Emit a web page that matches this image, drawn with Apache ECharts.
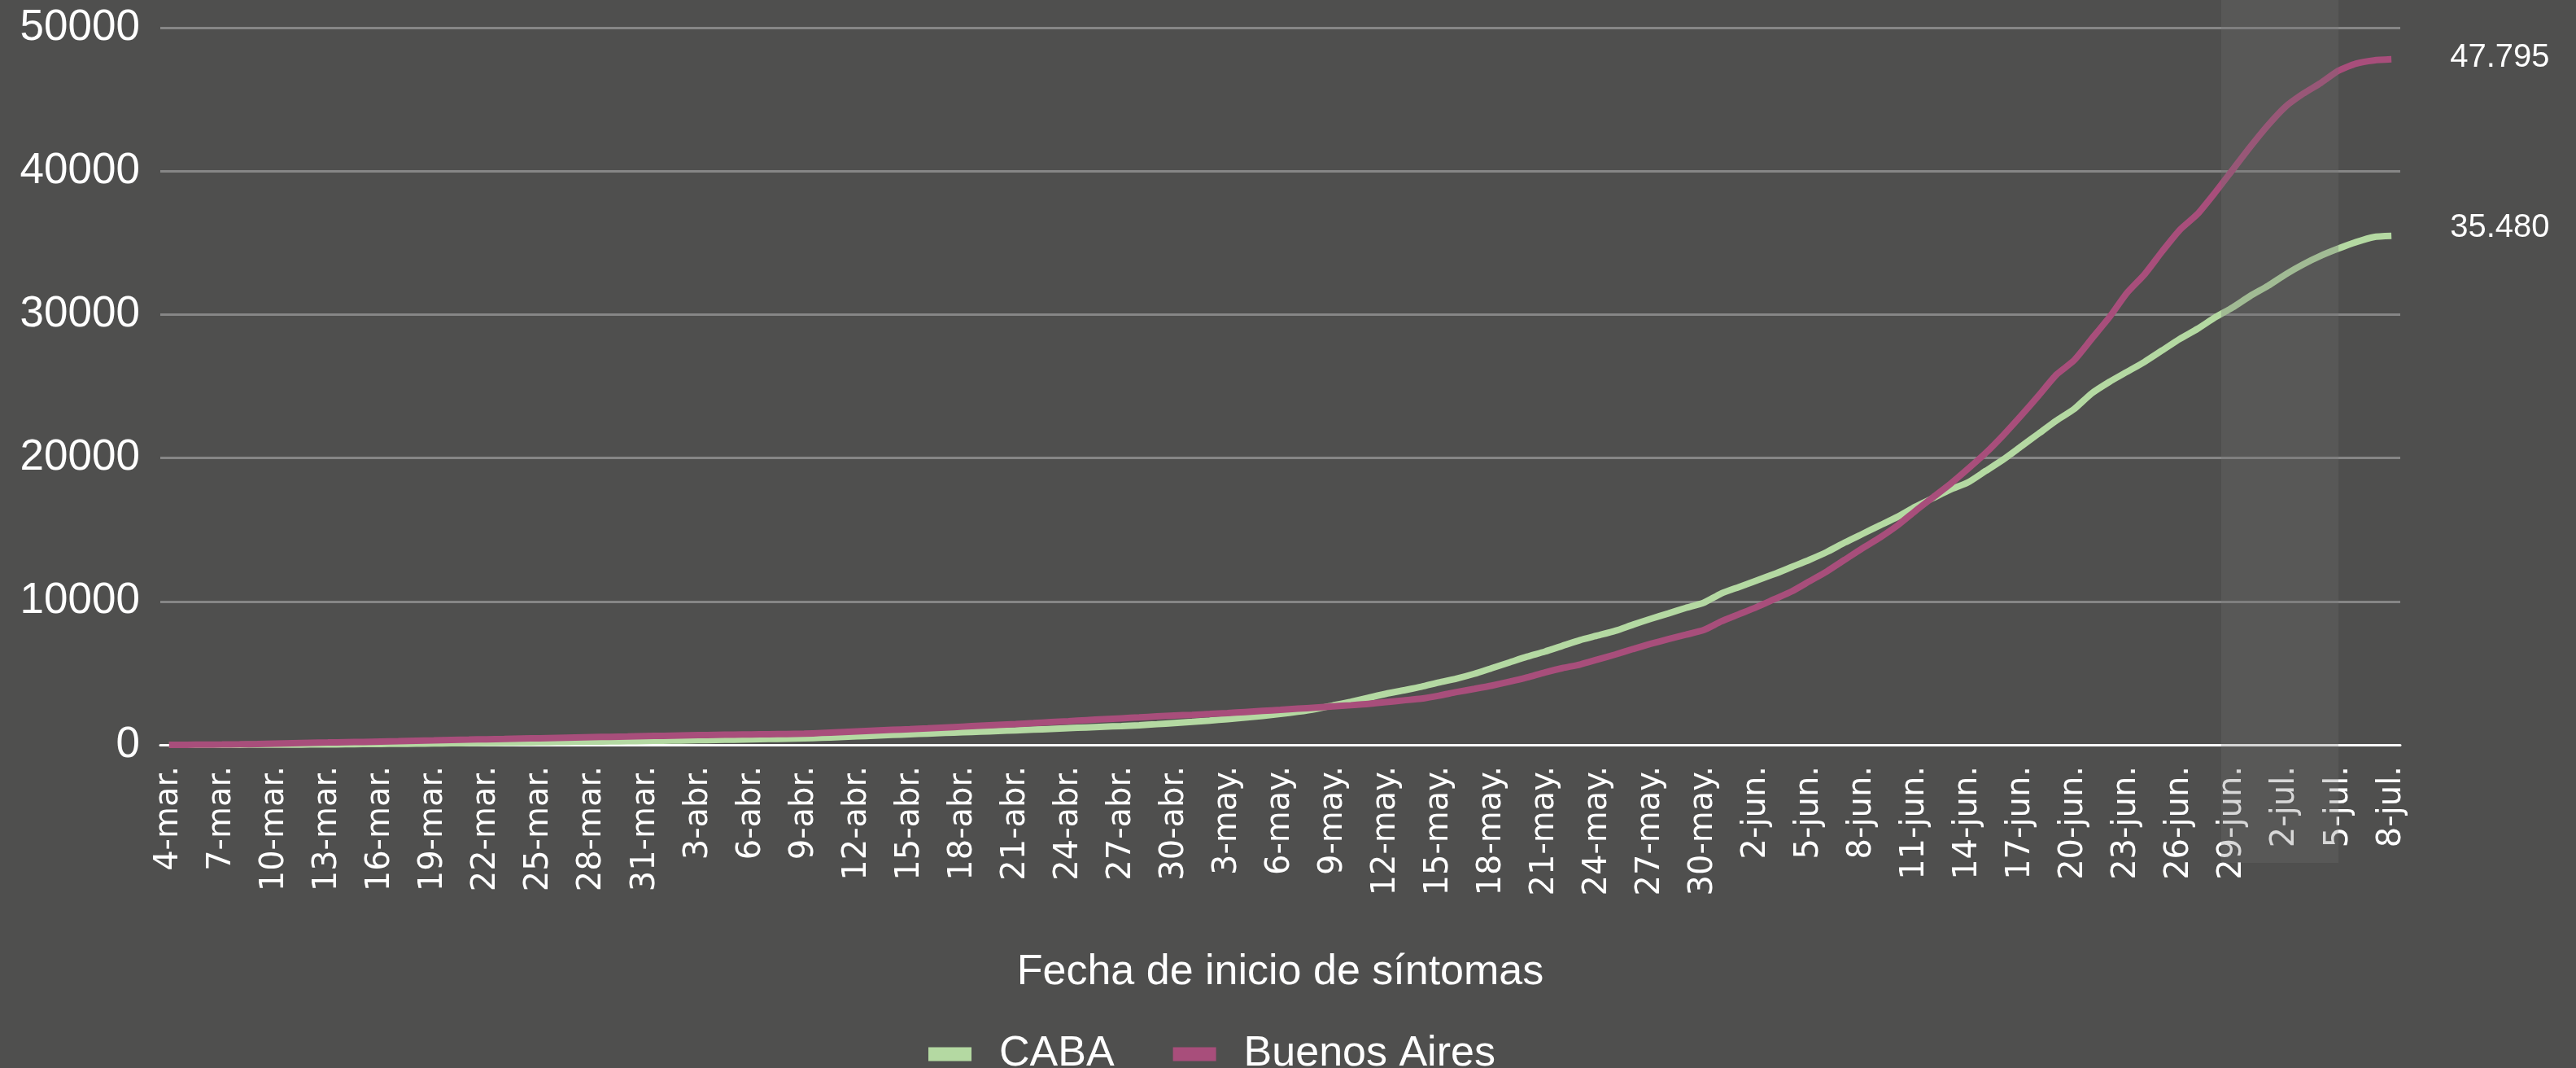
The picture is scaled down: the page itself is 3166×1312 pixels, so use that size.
<!DOCTYPE html>
<html>
<head>
<meta charset="utf-8">
<script src="https://cdn.jsdelivr.net/npm/echarts@6/dist/echarts.min.js"></script>
<style>
html,body{margin:0;padding:0;background:#4f4f4e;}
#c{width:3166px;height:1312px;}
</style>
</head>
<body>
<div id="c"></div>
<script>
// Categories: 4-mar. .. 8-jul. (daily)
const months = [
  {name:'mar.', from:4, to:31},
  {name:'abr.', from:1, to:30},
  {name:'may.', from:1, to:31},
  {name:'jun.', from:1, to:30},
  {name:'jul.', from:1, to:8}
];
const categories = [];
months.forEach(m => { for (let d = m.from; d <= m.to; d++) categories.push(d + '-' + m.name); });

// CABA cumulative cases
const caba = [
  0,1,2,4,6,9,13,18,24,31,
  40,50,60,72,84,97,110,124,138,152,
  166,180,195,210,225,240,255,270,287,304,
  322,340,360,382,405,430,455,495,540,590,
  640,690,740,785,830,875,920,965,1010,1060,
  1110,1160,1210,1260,1310,1365,1440,1520,1600,1690,
  1790,1900,2020,2150,2310,2500,2750,3000,3280,3560,
  3800,4050,4350,4620,4950,5350,5750,6150,6500,6900,
  7300,7620,7950,8380,8780,9160,9550,9900,10550,11000,
  11450,11900,12400,12900,13450,14100,14700,15300,15900,16600,
  17200,17800,18300,19100,19900,20800,21700,22600,23400,24500,
  25300,26000,26700,27500,28300,29000,29800,30500,31300,32000,
  32800,33500,34100,34600,35050,35400,35480
];

// Buenos Aires cumulative cases
const buenosAires = [
  2,5,12,25,40,60,90,120,145,165,
  185,200,225,250,280,310,340,365,390,410,
  435,460,485,510,535,560,580,605,630,655,
  675,695,710,725,740,755,775,830,885,940,
  995,1045,1095,1150,1210,1270,1330,1390,1450,1515,
  1585,1650,1720,1785,1850,1915,1980,2040,2090,2150,
  2215,2290,2365,2440,2520,2600,2680,2760,2850,2980,
  3100,3220,3430,3680,3900,4130,4400,4700,5050,5350,
  5600,5950,6300,6680,7040,7370,7680,8000,8600,9100,
  9600,10150,10700,11400,12100,12900,13700,14450,15300,16300,
  17250,18200,19250,20350,21600,22950,24350,25800,26800,28300,
  29800,31500,32800,34400,35900,37000,38500,40100,41700,43200,
  44500,45400,46150,47000,47500,47720,47795
];

const endLabels = ['35.480', '47.795'];
const seriesNames = ['CABA', 'Buenos Aires'];
const colors = ['#b4d9a2', '#a84e7b'];
const yTicks = {min: 0, max: 50000, interval: 10000};
const shadeFrom = '29-jun.';
const shadeTo = '5-jul.';

const font = 'Liberation Sans, Arial, sans-serif';

function endLabel(text, offY) {
  return {show: true, formatter: text, distance: 72, offset: [0, offY],
    color: '#ffffff', fontSize: 40, fontFamily: font};
}

const chart = echarts.init(document.getElementById('c'), null, {renderer: 'canvas'});
chart.setOption({
  backgroundColor: '#4f4f4e',
  animation: false,
  grid: {left: 197, right: 216, top: 34, bottom: 397, containLabel: false},
  legend: {
    left: 1136, top: 1264,
    itemWidth: 53, itemHeight: 17, itemGap: 72,
    icon: 'rect',
    textStyle: {color: '#ffffff', fontSize: 52, fontFamily: font, padding: [0, 0, 0, 29]},
    data: seriesNames.map((n, i) => ({name: n, icon: 'rect', itemStyle: {color: colors[i]}}))
  },
  xAxis: {
    type: 'category',
    data: categories,
    boundaryGap: true,
    name: 'Fecha de inicio de síntomas',
    nameLocation: 'middle',
    nameGap: 254,
    nameTextStyle: {color: '#ffffff', fontSize: 52, fontFamily: font},
    axisLine: {show: true, lineStyle: {color: '#ffffff', width: 3}},
    axisTick: {show: false},
    axisLabel: {interval: 2, rotate: 90, margin: 26, color: '#ffffff', fontSize: 40, fontFamily: 'DejaVu Sans, sans-serif'},
    splitLine: {show: false}
  },
  yAxis: {
    type: 'value',
    min: yTicks.min, max: yTicks.max, interval: yTicks.interval,
    axisLine: {show: false},
    axisTick: {show: false},
    axisLabel: {margin: 25, color: '#ffffff', fontSize: 53, fontFamily: font, formatter: v => String(v)},
    splitLine: {show: true, lineStyle: {color: '#868686', width: 3}}
  },
  series: [
    {name: seriesNames[0], type: 'line', data: caba, showSymbol: false, symbol: 'none', clip: false,
      smooth: 0.2, lineStyle: {color: colors[0], width: 8}, itemStyle: {color: colors[0]}, z: 3,
      endLabel: endLabel(endLabels[0], -10)},
    {name: seriesNames[1], type: 'line', data: buenosAires, showSymbol: false, symbol: 'none', clip: false,
      smooth: 0.2, lineStyle: {color: colors[1], width: 8}, itemStyle: {color: colors[1]}, z: 4,
      endLabel: endLabel(endLabels[1], -2)}
  ]
});

// Shaded band for recent days (drawn on top, as in the reference)
const xa = chart.convertToPixel({xAxisIndex: 0}, categories[0]);
const xb = chart.convertToPixel({xAxisIndex: 0}, categories[1]);
const step = xb - xa;
const sx0 = chart.convertToPixel({xAxisIndex: 0}, shadeFrom) - step * 0.65;
const sx1 = chart.convertToPixel({xAxisIndex: 0}, shadeTo);
const yZero = chart.convertToPixel({yAxisIndex: 0}, 0);
chart.setOption({
  graphic: [{
    type: 'rect', z: 100, silent: true,
    shape: {x: sx0, y: 0, width: sx1 - sx0, height: yZero + 145},
    style: {fill: 'rgba(112,112,112,0.28)'}
  }]
});
</script>
</body>
</html>
